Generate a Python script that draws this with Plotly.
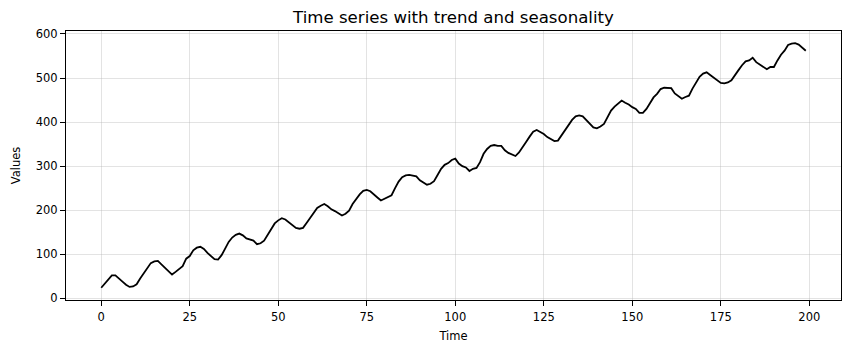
import plotly.graph_objects as go

time = list(range(200))
values = [
    24, 33, 43, 52, 52, 44, 38, 31, 26, 27,
    32, 45, 57, 70, 80, 84, 85, 77, 70, 62,
    54, 60, 66, 73, 90, 96, 109, 115, 117, 112,
    103, 95, 89, 88, 98, 113, 128, 138, 144, 147,
    143, 136, 134, 131, 123, 125, 131, 145, 156, 170,
    177, 182, 179, 172, 166, 160, 158, 160, 171, 183,
    196, 205, 210, 214, 209, 202, 198, 192, 188, 192,
    199, 214, 225, 236, 244, 246, 243, 237, 229, 222,
    226, 230, 234, 250, 265, 275, 279, 280, 278, 277,
    268, 263, 258, 260, 266, 280, 294, 303, 307, 314,
    317, 306, 300, 297, 289, 294, 296, 309, 328, 339,
    346, 348, 346, 346, 336, 330, 326, 323, 331, 342,
    355, 367, 378, 382, 378, 373, 366, 362, 357, 358,
    370, 381, 395, 405, 413, 415, 413, 405, 397, 388,
    386, 390, 396, 412, 426, 435, 441, 449, 444, 440,
    434, 430, 421, 421, 430, 443, 456, 464, 475, 478,
    478, 477, 465, 458, 453, 457, 460, 476, 490, 503,
    510, 513, 507, 501, 496, 489, 488, 490, 495, 508,
    518, 529, 538, 540, 546, 536, 530, 525, 520, 525,
    525, 540, 553, 562, 575, 578, 579, 576, 570, 562,
]
x_ticks = [0, 25, 50, 75, 100, 125, 150, 175, 200]
y_ticks = [0, 100, 200, 300, 400, 500, 600]

xmin, xmax = min(time), max(time)
ymin, ymax = min(values), max(values)
xpad = 0.05 * (xmax - xmin)
ypad = 0.05 * (ymax - ymin)

fig = go.Figure()
fig.add_trace(go.Scatter(x=time, y=values, mode="lines",
                         line=dict(color="black", width=1.8)))

axis_common = dict(
    showline=True, linecolor="black", linewidth=1, mirror=True,
    ticks="outside", ticklen=5, tickwidth=1, tickcolor="black",
    showgrid=True, gridcolor="rgba(176,176,176,0.35)", gridwidth=1,
    zeroline=False, tickfont=dict(size=11.5, color="black"),
    automargin=False,
)

fig.update_layout(
    width=850, height=353,
    margin=dict(l=66, r=9, t=31, b=53),
    paper_bgcolor="white", plot_bgcolor="white",
    font=dict(family="DejaVu Sans", color="black"),
    showlegend=False,
    title=dict(text="Time series with trend and seasonality",
               x=0.5, xref="paper", xanchor="center",
               y=1 - 17 / 353, yanchor="middle",
               font=dict(size=16.6, color="black")),
    xaxis=dict(range=[xmin - xpad, xmax + xpad], tickvals=x_ticks,
               ticklabelstandoff=1,
               title=dict(text="Time", font=dict(size=11.5), standoff=9),
               **axis_common),
    yaxis=dict(range=[ymin - ypad, ymax + ypad], tickvals=y_ticks,
               title=dict(text="Values", font=dict(size=11.5), standoff=12),
               **axis_common),
)

fig.write_html(
    "out.html",
    config={"displayModeBar": False},
    post_script="document.body.style.margin='0';document.body.style.padding='0';",
)
